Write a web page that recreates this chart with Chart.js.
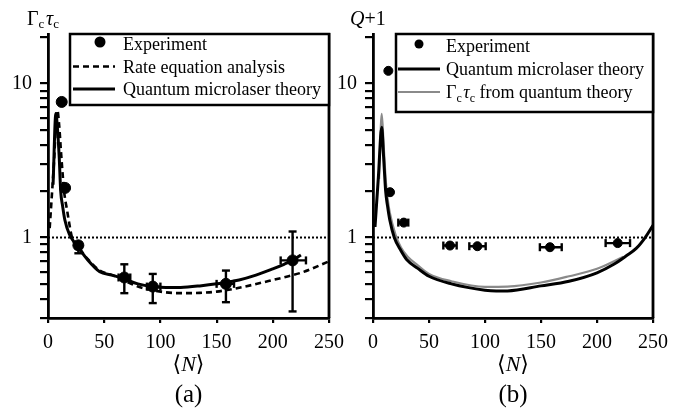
<!DOCTYPE html>
<html>
<head>
<meta charset="utf-8">
<script src="https://cdn.jsdelivr.net/npm/chart.js@4.4.1/dist/chart.umd.min.js"></script>
<style>
  body { margin: 0; background: #fff; }
  canvas { position: absolute; top: 0; }
</style>
</head>
<body>
<canvas id="ca" width="352" height="413" style="left:0px"></canvas>
<canvas id="cb" width="357" height="413" style="left:330px"></canvas>
<script>
// ---- data ----
// panel (a): Gamma_c tau_c
const expAx = [12.2, 15.2, 27, 67.9, 93.2, 158.3, 217.6];
const expAy = [7.6, 2.1, 0.89, 0.55, 0.48, 0.50, 0.71];
const errAyLo = [null, null, 0.79, 0.435, 0.375, 0.38, 0.331];
const errAyHi = [null, null, 0.93, 0.67, 0.58, 0.61, 1.094];
const errAxLo = [null, null, 24.5, 62.8, 88, 150, 207];
const errAxHi = [null, null, 29.5, 73.2, 100, 165.5, 229.5];

const rateX = [1.5, 5, 8.3, 10, 11.3, 13, 14.3, 17, 21.4, 27, 35, 46, 57, 67, 80, 93, 105, 118, 135, 150, 175, 200, 225, 250];
const rateY = [1.15, 2.8, 6.7, 5.3, 3.84, 2.6, 2.0, 1.5, 1.0, 0.87, 0.73, 0.61, 0.57, 0.53, 0.48, 0.455, 0.44, 0.435, 0.437, 0.445, 0.48, 0.53, 0.59, 0.70];

const quantAX = [4.5, 7, 8.5, 10, 11.3, 13, 15, 19, 23, 27, 35, 46, 57, 67, 80, 93, 105, 118, 135, 150, 170, 185, 200, 210, 217.6, 225];
const quantAY = [2.2, 6.4, 5.0, 3.3, 2.0, 1.6, 1.3, 1.05, 0.94, 0.86, 0.72, 0.6, 0.57, 0.54, 0.5, 0.48, 0.473, 0.474, 0.485, 0.50, 0.53, 0.57, 0.626, 0.67, 0.71, 0.77];

// panel (b): Q+1
const expBx = [13.7, 15.2, 27.5, 68.75, 93.2, 158, 218.5];
const expBy = [12.1, 1.97, 1.25, 0.887, 0.878, 0.865, 0.92];
const errBxLo = [null, null, 22.6, 62.8, 86, 149, 207.7];
const errBxHi = [null, null, 31.5, 74.7, 100.6, 168.5, 229.5];

const quantBX = [1.8, 4.8, 7.8, 9.5, 11.3, 13, 15, 19, 25, 30, 40, 50, 70, 100, 110, 120, 150, 175, 200, 215, 226.5, 235, 243, 250];
const quantBY = [1.17, 2.47, 5.2, 3.3, 2.0, 1.6, 1.3, 1.0, 0.82, 0.72, 0.63, 0.56, 0.5, 0.455, 0.45, 0.45, 0.485, 0.52, 0.59, 0.67, 0.764, 0.85, 1.0, 1.2];

const gammaBX = [5.4, 7.8, 9.5, 11.5, 13, 15, 20, 25, 31, 40, 50, 70, 100, 120, 150, 175, 200, 223.5];
const gammaBY = [2.4, 6.35, 4.0, 2.3, 1.8, 1.45, 1.05, 0.86, 0.75, 0.66, 0.58, 0.52, 0.478, 0.48, 0.51, 0.56, 0.626, 0.75];

// axes
const xTicks = [0, 50, 100, 150, 200, 250];
const yTicks = [0.3, 0.4, 0.5, 0.6, 0.7, 0.8, 0.9, 1, 2, 3, 4, 5, 6, 7, 8, 9, 10, 20];
const yLabels = [1, 10];
const xMin = 0, xMax = 250, yMin = 0.3, yMax = 21;

const FONT = '"Liberation Serif", "DejaVu Serif", serif';

function pts(xs, ys) { return xs.map((x, i) => ({x: x, y: ys[i]})); }

function vBars(xs, lo, hi) {
  const out = [];
  xs.forEach((x, i) => {
    if (lo[i] == null) return;
    out.push({x: x, y: lo[i]}, {x: x, y: hi[i]}, {x: x, y: null});
  });
  return out;
}
function hBars(ys, lo, hi) {
  const out = [];
  ys.forEach((y, i) => {
    if (lo[i] == null) return;
    out.push({x: lo[i], y: y}, {x: hi[i], y: y}, {x: hi[i], y: null});
  });
  return out;
}

// draws a run of text pieces (for subscripts / italics)
function drawRich(ctx, parts, x, y, align) {
  ctx.textBaseline = 'alphabetic';
  ctx.textAlign = 'left';
  let w = 0;
  parts.forEach(p => { ctx.font = p.f; w += ctx.measureText(p.t).width; });
  let cx = align === 'center' ? x - w / 2 : x;
  parts.forEach(p => {
    ctx.font = p.f;
    ctx.fillText(p.t, cx, y + (p.dy || 0));
    cx += ctx.measureText(p.t).width;
  });
}

const decor = {
  id: 'decor',
  afterDatasetsDraw(chart, args, o) {
    const ctx = chart.ctx, a = chart.chartArea;
    ctx.save();
    ctx.strokeStyle = '#000';
    ctx.fillStyle = '#000';
    ctx.lineWidth = 2.8;
    ctx.setLineDash([]);
    ctx.beginPath();
    ctx.moveTo(a.right, a.top - 1);
    ctx.lineTo(a.right, a.bottom);
    ctx.stroke();

    // legend box
    const L = o.legend;
    const bx = a.left + L.dx, by = a.top;
    ctx.fillStyle = '#fff';
    ctx.fillRect(bx, by, a.right - bx, L.h);
    ctx.lineWidth = 2.5;
    ctx.strokeRect(bx, by, a.right - bx, L.h);
    L.rows.forEach((r, i) => {
      const y = by + L.y0 + i * L.dy;
      const ds = chart.data.datasets[r.ds];
      if (r.kind === 'dot') {
        ctx.fillStyle = ds.pointBackgroundColor;
        ctx.beginPath();
        ctx.arc(a.left + L.dot, y - 2, ds.pointRadius, 0, Math.PI * 2);
        ctx.fill();
      } else {
        ctx.strokeStyle = ds.borderColor;
        ctx.lineWidth = ds.borderWidth;
        ctx.setLineDash(ds.borderDash || []);
        ctx.beginPath();
        ctx.moveTo(a.left + L.l0, y);
        ctx.lineTo(a.left + L.l1, y);
        ctx.stroke();
        ctx.setLineDash([]);
      }
      ctx.fillStyle = '#000';
      drawRich(ctx, r.parts, a.left + L.tx, y + 6);
    });

    // y title, x title, panel label
    ctx.fillStyle = '#000';
    drawRich(ctx, o.yTitle, a.left + o.yTitleDx, 25);
    const cx = (a.left + a.right) / 2;
    drawRich(ctx, [
      {t: '\u27E8', f: '22px ' + FONT},
      {t: 'N', f: 'italic 22px ' + FONT},
      {t: '\u27E9', f: '22px ' + FONT}
    ], cx, 371, 'center');
    drawRich(ctx, [{t: o.panel, f: '25px ' + FONT}], cx, 402, 'center');
    ctx.restore();
  }
};

function scales(yWidth) {
  return {
    x: {
      type: 'linear', min: xMin, max: xMax,
      afterBuildTicks: s => { s.ticks = xTicks.map(v => ({value: v})); },
      afterFit: s => { s.height = 95; },
      ticks: {color: '#000', font: {family: FONT, size: 20}, padding: 8, maxRotation: 0},
      grid: {drawOnChartArea: false, tickLength: 5, color: '#000', lineWidth: 2.2},
      border: {color: '#000', width: 2.8}
    },
    y: {
      type: 'logarithmic', min: yMin, max: yMax,
      afterBuildTicks: s => { s.ticks = yTicks.map(v => ({value: v})); },
      afterFit: s => { s.width = yWidth; },
      ticks: {
        color: '#000', font: {family: FONT, size: 20}, padding: 8, autoSkip: false,
        callback: v => (yLabels.includes(v) ? String(v) : '')
      },
      grid: {drawOnChartArea: false, tickLength: 8, color: '#000', lineWidth: 2.2},
      border: {color: '#000', width: 2.8}
    }
  };
}

const dotted = {type: 'line', data: [{x: xMin, y: 1}, {x: xMax, y: 1}], borderColor: '#000', borderWidth: 2, borderDash: [2, 2], pointRadius: 0};

// ---- chart (a) ----
new Chart(document.getElementById('ca'), {
  type: 'scatter',
  data: {
    datasets: [
      {type: 'scatter', label: 'Experiment', data: pts(expAx, expAy), pointRadius: 5.5, pointBackgroundColor: '#000', pointBorderColor: '#000', order: 0},
      {type: 'line', label: 'Rate equation analysis', data: pts(rateX, rateY), borderColor: '#000', borderWidth: 2.6, borderDash: [6, 4], pointRadius: 0, cubicInterpolationMode: 'monotone', order: 3},
      {type: 'line', label: 'Quantum microlaser theory', data: pts(quantAX, quantAY), borderColor: '#000', borderWidth: 3, pointRadius: 0, cubicInterpolationMode: 'monotone', order: 2},
      Object.assign({}, dotted, {order: 4}),
      {type: 'line', data: vBars(expAx, errAyLo, errAyHi), borderColor: '#000', borderWidth: 2.4, pointStyle: 'line', pointRadius: 4, pointBorderWidth: 2.4, pointBorderColor: '#000', spanGaps: false, order: 1},
      {type: 'line', data: hBars(expAy, errAxLo, errAxHi), borderColor: '#000', borderWidth: 2.4, pointStyle: 'line', pointRotation: 90, pointRadius: 4, pointBorderWidth: 2.4, pointBorderColor: '#000', spanGaps: false, order: 1}
    ]
  },
  options: {
    responsive: false, animation: false,
    layout: {padding: {top: 34, right: 18, left: 0, bottom: 0}},
    plugins: {
      legend: {display: false}, tooltip: {enabled: false},
      decor: {
        panel: '(a)',
        yTitleDx: -21,
        yTitle: [
          {t: '\u0393', f: '20px ' + FONT}, {t: 'c', f: '13px ' + FONT, dy: 3},
          {t: ' ', f: '7px ' + FONT},
          {t: '\u03C4', f: 'italic 20px ' + FONT}, {t: 'c', f: '13px ' + FONT, dy: 3}
        ],
        legend: {
          dx: 22, h: 71, y0: 10, dy: 22.5, dot: 52, l0: 25, l1: 67, tx: 75,
          rows: [
            {ds: 0, kind: 'dot', parts: [{t: 'Experiment', f: '18px ' + FONT}]},
            {ds: 1, kind: 'line', parts: [{t: 'Rate equation analysis', f: '18px ' + FONT}]},
            {ds: 2, kind: 'line', parts: [{t: 'Quantum microlaser theory', f: '18px ' + FONT}]}
          ]
        }
      }
    },
    scales: scales(48)
  },
  plugins: [decor]
});

// ---- chart (b) ----
new Chart(document.getElementById('cb'), {
  type: 'scatter',
  data: {
    datasets: [
      {type: 'scatter', label: 'Experiment', data: pts(expBx, expBy), pointRadius: 4.5, pointBackgroundColor: '#000', pointBorderColor: '#000', order: 0},
      {type: 'line', label: 'Quantum microlaser theory', data: pts(quantBX, quantBY), borderColor: '#000', borderWidth: 3, pointRadius: 0, cubicInterpolationMode: 'monotone', order: 2},
      {type: 'line', label: '\u0393c\u03C4c from quantum theory', data: pts(gammaBX, gammaBY), borderColor: '#8a8a8a', borderWidth: 2.2, pointRadius: 0, cubicInterpolationMode: 'monotone', order: 3},
      Object.assign({}, dotted, {order: 4}),
      {type: 'line', data: hBars(expBy, errBxLo, errBxHi), borderColor: '#000', borderWidth: 2.4, pointStyle: 'line', pointRotation: 90, pointRadius: 4, pointBorderWidth: 2.4, pointBorderColor: '#000', spanGaps: false, order: 1}
    ]
  },
  options: {
    responsive: false, animation: false,
    layout: {padding: {top: 34, right: 34, left: 0, bottom: 0}},
    plugins: {
      legend: {display: false}, tooltip: {enabled: false},
      decor: {
        panel: '(b)',
        yTitleDx: -23,
        yTitle: [
          {t: 'Q', f: 'italic 20px ' + FONT}, {t: '+1', f: '20px ' + FONT}
        ],
        legend: {
          dx: 23, h: 78, y0: 12, dy: 23, dot: 46, l0: 25, l1: 67, tx: 73,
          rows: [
            {ds: 0, kind: 'dot', parts: [{t: 'Experiment', f: '18px ' + FONT}]},
            {ds: 1, kind: 'line', parts: [{t: 'Quantum microlaser theory', f: '18px ' + FONT}]},
            {ds: 2, kind: 'line', parts: [
              {t: '\u0393', f: '18px ' + FONT}, {t: 'c', f: '12px ' + FONT, dy: 4},
              {t: ' ', f: '6px ' + FONT},
              {t: '\u03C4', f: 'italic 18px ' + FONT}, {t: 'c', f: '12px ' + FONT, dy: 4},
              {t: ' from quantum theory', f: '18px ' + FONT}
            ]}
          ]
        }
      }
    },
    scales: scales(43)
  },
  plugins: [decor]
});
</script>
</body>
</html>
